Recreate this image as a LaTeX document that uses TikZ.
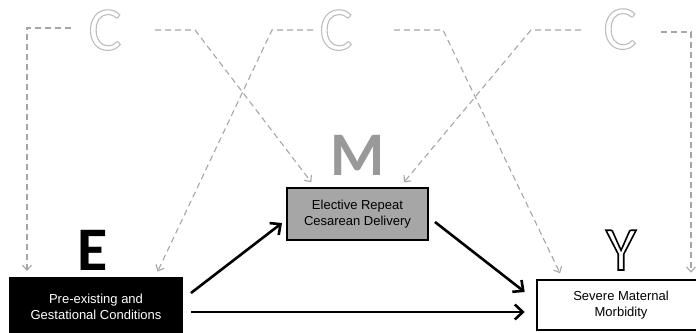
\documentclass[tikz,border=0pt]{standalone}
\usepackage{fontspec}
\setmainfont{Liberation Sans}
\newfontfamily\calib{Carlito}
\usepackage{tikz}
\usetikzlibrary{arrows.meta}
\usepackage{xcolor}
\definecolor{confgray}{HTML}{A6A6A6}
\definecolor{boxgray}{HTML}{A6A6A6}
\definecolor{mgray}{HTML}{999999}
\definecolor{cgray}{HTML}{BDBDBD}
% hollow letters (stroked glyph outline)
\newcommand{\hollowtext}[3]{\special{pdf:literal direct 1 Tr #2 w}\textcolor{#1}{#3}\special{pdf:literal direct 0 Tr}}

\begin{document}
\begin{tikzpicture}[x=1pt, y=-1pt,
  varbox/.style={draw=black, line width=2pt, align=center, inner sep=0pt,
    font=\fontsize{13}{16.5}\selectfont},
  conf/.style={confgray, line width=1.1pt, dash pattern=on 6pt off 4pt,
    -{Straight Barb[length=5pt,width=9pt]}, shorten >=6pt},
  effect/.style={black, line width=2.6pt, -{Straight Barb[length=8pt,width=15pt]}},
  bigletter/.style={anchor=base, inner sep=0pt, font=\calib\bfseries\fontsize{62}{62}\selectfont},
  cletter/.style={anchor=base, inner sep=0pt, font=\calib\fontsize{62}{62}\selectfont}]

\useasboundingbox (0,0) rectangle (696,332);
\clip (0,0) rectangle (696,332);

% boxes
\node[varbox, fill=black, text=white, minimum width=172pt, minimum height=58pt] (expo) at (96,307)
{Pre-existing and\\Gestational Conditions};
\node[varbox, fill=boxgray, minimum width=141pt, minimum height=52pt] (med) at (357.5,214)
{Elective Repeat\\Cesarean Delivery};
\node[varbox, line width=2.6pt, fill=white, minimum width=168pt, minimum height=50pt] (out) at (621,305)
{Severe Maternal\\Morbidity};

% letters
\node[bigletter] (lete) at (93,270) {E};
\node[bigletter, text=mgray] (letm) at (358,175) {M};
\node[cletter] (lety) at (621,270) {\hollowtext{black}{1.6}{Y}};

\node[cletter] (c1) at (105,50) {\hollowtext{cgray}{1.1}{C}};
\node[cletter] (c2) at (336,50) {\hollowtext{cgray}{1.1}{C}};
\node[cletter] (c3) at (620,49) {\hollowtext{cgray}{1.1}{C}};

% confounder paths
\coordinate (c1l) at (71,28);
\coordinate (c1lb) at (27,28);
\coordinate (c1r) at (155,30);
\coordinate (c1rb) at (195,30);
\coordinate (c2l) at (313,30);
\coordinate (c2lb) at (272,30);
\coordinate (c2r) at (394,30);
\coordinate (c2rb) at (443,30);
\coordinate (c3l) at (581,30);
\coordinate (c3lb) at (531,30);
\coordinate (c3r) at (661,32);
\coordinate (c3rb) at (691,32);

\draw[conf] (c1l) -- (c1lb) -- (c1lb |- expo.north);
\draw[conf] (c1r) -- (c1rb) -- ([xshift=29pt]med.north west);
\draw[conf] (c2l) -- (c2lb) -- ([xshift=-28pt]expo.north east);
\draw[conf] (c2r) -- (c2rb) -- ([xshift=27pt]out.north west);
\draw[conf] (c3l) -- (c3lb) -- ([xshift=-29pt]med.north east);
\draw[conf] (c3r) -- (c3rb) -- (c3rb |- out.north);

% causal arrows
\draw[effect] ([xshift=8pt,yshift=14pt]expo.east) -- ([xshift=-4pt,yshift=-9pt]med.west);
\draw[effect] ([xshift=6pt,yshift=-8pt]med.east) -- ([xshift=-11pt,yshift=13pt]out.west);
\draw[effect] ([xshift=8pt,yshift=-5pt]expo.east) -- ([xshift=-11pt,yshift=-7pt]out.west);

\end{tikzpicture}
\end{document}
